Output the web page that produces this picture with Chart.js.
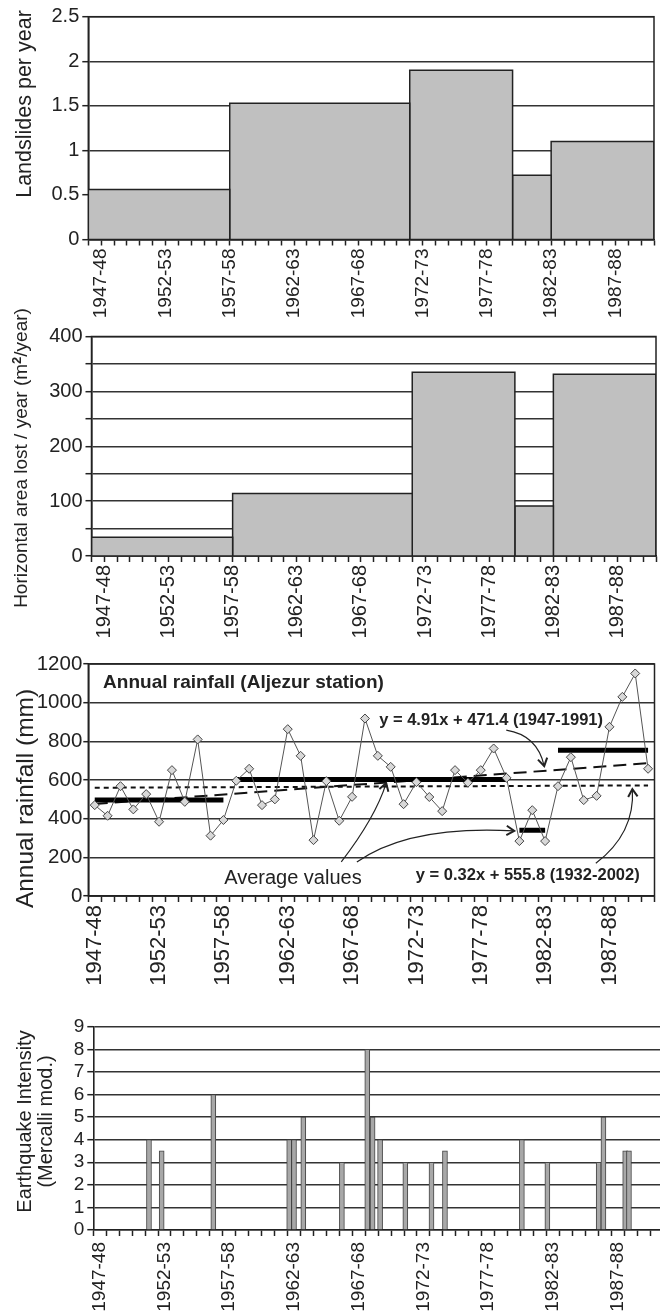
<!DOCTYPE html>
<html>
<head>
<meta charset="utf-8">
<script src="https://cdn.jsdelivr.net/npm/chart.js@4.4.1/dist/chart.umd.min.js"></script>
<style>
  html, body { margin: 0; padding: 0; background: #fff; overflow: hidden; }
  body { width: 660px; height: 1314px; position: relative; }
  canvas { position: absolute; left: 0; }
</style>
</head>
<body>
<canvas id="landslides" width="660" height="325" style="top:0px"></canvas>
<canvas id="area" width="660" height="345" style="top:300px"></canvas>
<canvas id="rainfall" width="660" height="355" style="top:645px"></canvas>
<canvas id="quakes" width="670" height="314" style="top:1000px"></canvas>
<script>
const FONT = "'Liberation Sans', Arial, sans-serif";
const INK = '#222';

// shared season axis
const axisStart = 1946, axisEnd = 1990;
const tickYears = [1947, 1952, 1957, 1962, 1967, 1972, 1977, 1982, 1987];
const tickLabels = ['1947-48', '1952-53', '1957-58', '1962-63', '1967-68', '1972-73', '1977-78', '1982-83', '1987-88'];

// periods used for the landslide / area bars
const periodStart = [1946, 1957, 1971, 1979, 1982];
const periodEnd = [1957, 1971, 1979, 1982, 1990];
const landslidesPerYear = [0.56, 1.53, 1.9, 0.72, 1.1];
const areaLostPerYear = [34, 114, 335, 91, 331];

// annual rainfall, Aljezur station (one value per season)
const rainFirstSeason = 1946.5;
const rainfallMm = [470, 415, 568, 448, 527, 384, 651, 487, 810, 312,
                    393, 596, 658, 470, 500, 863, 725, 289, 594, 389,
                    513, 918, 725, 668, 475, 589, 512, 439, 651, 586,
                    651, 763, 611, 284, 444, 284, 568, 718, 496, 518,
                    875, 1030, 1151, 658];
const avgFrom = [1946.5, 1957.5, 1979.5, 1982.5];
const avgTo = [1956.5, 1978.5, 1981.5, 1989.5];
const avgMm = [497, 603, 340, 754];
const trendSpan = [1946.5, 1989.5];
const trendLong = [476, 687];   // y = 4.91x + 471.4 (1947-1991)
const trendShort = [560, 572];  // y = 0.32x + 555.8 (1932-2002)

// earthquakes
const quakeYear = [1950.3, 1951.28, 1955.27, 1961.13, 1961.5, 1962.22, 1965.2, 1967.16, 1967.57, 1968.15,
                   1970.1, 1972.12, 1973.16, 1979.1, 1981.07, 1985.03, 1985.4, 1987.08, 1987.37];
const quakeMercalli = [4, 3.5, 6, 4, 4, 5, 3, 8, 5, 4, 3, 3, 3.5, 4, 3, 3, 5, 3.5, 3.5];

Chart.defaults.font.family = FONT;
Chart.defaults.color = INK;
Chart.defaults.animation = false;
Chart.defaults.plugins.legend.display = false;
Chart.defaults.plugins.tooltip.enabled = false;

function seasonAxis(labelShift, size, height, pad) {
    return {
        type: 'linear', min: axisStart, max: axisEnd, offset: false,
        afterBuildTicks: axis => {
            const t = [];
            for (let v = axisStart; v <= axisEnd; v++) t.push({ value: v });
            if (labelShift) tickYears.forEach(v => t.push({ value: v + labelShift }));
            axis.ticks = t.sort((a, b) => a.value - b.value);
        },
        afterFit: axis => {
            axis.height = height;
            axis.paddingLeft = 0;
            axis.paddingRight = 0;
        },
        grid: {
            drawOnChartArea: false, offset: false, tickLength: 6, tickWidth: 1.5,
            tickColor: c => Number.isInteger(c.tick.value) ? INK : 'rgba(0,0,0,0)'
        },
        border: { color: INK, width: 1.5 },
        ticks: {
            autoSkip: false, minRotation: 90, maxRotation: 90, padding: pad, color: INK,
            font: { size },
            callback: v => {
                const i = tickYears.indexOf(v - labelShift);
                return i < 0 ? '' : tickLabels[i];
            }
        }
    };
}

function valueAxis(max, step, labelStep, size, width, tickLen, pad) {
    return {
        min: 0, max,
        afterBuildTicks: axis => {
            const t = [];
            for (let v = 0; v <= max + 1e-9; v += step) t.push({ value: Math.round(v * 1000) / 1000 });
            axis.ticks = t;
        },
        afterFit: axis => {
            axis.width = width;
            axis.paddingTop = 0;
            axis.paddingBottom = 0;
        },
        grid: { color: '#333', lineWidth: 1.4, tickLength: tickLen, tickColor: INK, tickWidth: 1.5 },
        border: { color: INK, width: 1.6 },
        ticks: {
            autoSkip: false, padding: pad, color: INK, font: { size },
            callback: v => (Math.abs(v / labelStep - Math.round(v / labelStep)) < 1e-6 ? String(v) : '')
        }
    };
}

// box round the plot area
const frame = {
    id: 'frame',
    afterDatasetsDraw(chart) {
        const a = chart.chartArea, c = chart.ctx;
        c.save();
        c.strokeStyle = INK;
        c.lineWidth = 1.5;
        c.strokeRect(a.left, a.top, a.right - a.left, a.bottom - a.top);
        c.restore();
    }
};

// rotated y-axis title (text may be longer than the plot height)
const sideTitle = {
    id: 'sideTitle',
    afterDraw(chart, args, o) {
        const c = chart.ctx;
        c.save();
        c.translate(o.x, o.y);
        c.rotate(-Math.PI / 2);
        c.fillStyle = INK;
        c.textBaseline = 'middle';
        o.lines.forEach((parts, li) => {
            let total = 0;
            parts.forEach(p => { c.font = p.font || o.font; total += c.measureText(p.text).width; });
            let x = -total / 2;
            parts.forEach(p => {
                c.font = p.font || o.font;
                c.fillText(p.text, x, li * (o.gap || 0) - (p.rise || 0));
                x += c.measureText(p.text).width;
            });
        });
        c.restore();
    }
};

function periodBars(values) {
    return values.map((v, i) => ({
        data: [
            { x: periodStart[i], y: 0 }, { x: periodStart[i], y: v },
            { x: periodEnd[i], y: v }, { x: periodEnd[i], y: 0 }
        ],
        borderColor: INK, borderWidth: 1.5, backgroundColor: '#c0c0c0',
        fill: 'origin', pointRadius: 0, tension: 0
    }));
}

// ---------- landslides ----------
new Chart(document.getElementById('landslides'), {
    type: 'line',
    data: { datasets: periodBars(landslidesPerYear) },
    options: {
        responsive: false,
        layout: { padding: { top: 16.7, right: 6, left: 0, bottom: 0 } },
        scales: {
            x: seasonAxis(0, 19, 85.5, 3),
            y: valueAxis(2.5, 0.5, 0.5, 20, 88.3, 6, 3)
        },
        plugins: {
            sideTitle: { x: 25, y: 104, font: '21.5px ' + FONT, lines: [[{ text: 'Landslides per year' }]] }
        }
    },
    plugins: [frame, sideTitle]
});

// ---------- horizontal area lost ----------
new Chart(document.getElementById('area'), {
    type: 'line',
    data: { datasets: periodBars(areaLostPerYear) },
    options: {
        responsive: false,
        layout: { padding: { top: 36.5, right: 4, left: 0, bottom: 0 } },
        scales: {
            x: seasonAxis(0, 20, 89, 3),
            y: valueAxis(400, 50, 100, 20, 91.5, 6, 3)
        },
        plugins: {
            sideTitle: {
                x: 22, y: 158, font: '19px ' + FONT,
                lines: [[
                    { text: 'Horizontal area lost / year (m' },
                    { text: '2', font: 'bold 13px ' + FONT, rise: 5 },
                    { text: '/year)' }
                ]]
            }
        }
    },
    plugins: [frame, sideTitle]
});

// ---------- rainfall ----------
const rainNotes = [
    { text: 'Annual rainfall (Aljezur station)', x: 1947.15, y: 1101, font: 'bold 19px ' + FONT, align: 'left' },
    { text: 'y = 4.91x + 471.4 (1947-1991)', x: 1977.3, y: 910, font: 'bold 16.5px ' + FONT, align: 'center' },
    { text: 'y = 0.32x + 555.8 (1932-2002)', x: 1980.15, y: 108, font: 'bold 16.5px ' + FONT, align: 'center' },
    { text: 'Average values', x: 1961.9, y: 93, font: '20px ' + FONT, align: 'center' }
];
const rainArrows = [
    { from: [1965.66, 177], via: [1968.3, 405], to: [1969.15, 584] },
    { from: [1966.87, 176], via: [1970.96, 367], to: [1979.1, 337] },
    { from: [1978.48, 858], via: [1980.9, 832], to: [1981.43, 672] },
    { from: [1985.44, 169], via: [1988.5, 325], to: [1988.28, 553] }
];

const notes = {
    id: 'notes',
    afterDatasetsDraw(chart) {
        const { ctx: c, scales: { x, y } } = chart;
        const px = v => x.getPixelForValue(v), py = v => y.getPixelForValue(v);
        c.save();
        c.strokeStyle = INK;
        c.fillStyle = INK;
        rainArrows.forEach(a => {
            const sx = px(a.from[0]), sy = py(a.from[1]);
            const cx = px(a.via[0]), cy = py(a.via[1]);
            const ex = px(a.to[0]), ey = py(a.to[1]);
            c.lineWidth = 1.2;
            c.beginPath();
            c.moveTo(sx, sy);
            c.quadraticCurveTo(cx, cy, ex, ey);
            c.stroke();
            const ang = Math.atan2(ey - cy, ex - cx);
            c.lineWidth = 2;
            c.beginPath();
            c.moveTo(ex - 9 * Math.cos(ang - 0.55), ey - 9 * Math.sin(ang - 0.55));
            c.lineTo(ex, ey);
            c.lineTo(ex - 9 * Math.cos(ang + 0.55), ey - 9 * Math.sin(ang + 0.55));
            c.stroke();
        });
        rainNotes.forEach(n => {
            c.font = n.font;
            c.textAlign = n.align;
            c.textBaseline = 'middle';
            c.fillText(n.text, px(n.x), py(n.y));
        });
        c.restore();
    }
};

const rainDatasets = [{
    data: rainfallMm.map((v, i) => ({ x: rainFirstSeason + i, y: v })),
    borderColor: '#555', borderWidth: 1, tension: 0,
    pointStyle: 'rectRot', pointRadius: 4.5,
    pointBackgroundColor: '#d8d8d8', pointBorderColor: '#444', pointBorderWidth: 1
}];
avgMm.forEach((v, i) => rainDatasets.push({
    data: [{ x: avgFrom[i], y: v }, { x: avgTo[i], y: v }],
    borderColor: '#000', borderWidth: 5, pointRadius: 0, borderCapStyle: 'butt'
}));
rainDatasets.push({
    data: [{ x: trendSpan[0], y: trendLong[0] }, { x: trendSpan[1], y: trendLong[1] }],
    borderColor: '#111', borderWidth: 2, borderDash: [13, 7], pointRadius: 0
});
rainDatasets.push({
    data: [{ x: trendSpan[0], y: trendShort[0] }, { x: trendSpan[1], y: trendShort[1] }],
    borderColor: '#111', borderWidth: 2, borderDash: [5, 4], pointRadius: 0
});

new Chart(document.getElementById('rainfall'), {
    type: 'line',
    data: { datasets: rainDatasets },
    options: {
        responsive: false,
        layout: { padding: { top: 19, right: 4, left: 0, bottom: 0 } },
        scales: {
            x: seasonAxis(-0.5, 22, 104, 3),
            y: valueAxis(1200, 200, 200, 20.5, 88.3, 5, 1)
        },
        plugins: {
            sideTitle: { x: 26, y: 153.5, font: '24.5px ' + FONT, lines: [[{ text: 'Annual rainfall (mm)' }]] }
        }
    },
    plugins: [frame, notes, sideTitle]
});

// ---------- earthquakes ----------
new Chart(document.getElementById('quakes'), {
    type: 'bar',
    data: {
        datasets: [{
            data: quakeYear.map((x, i) => ({ x, y: quakeMercalli[i] })),
            backgroundColor: '#a8a8a8', borderColor: '#444', borderWidth: 1, barThickness: 5
        }]
    },
    options: {
        responsive: false,
        layout: { padding: { top: 26.7, right: 7, left: 0, bottom: 0 } },
        scales: {
            x: seasonAxis(-0.5, 19, 84, 6),
            y: valueAxis(9, 1, 1, 19, 93.3, 6, 3)
        },
        plugins: {
            sideTitle: {
                x: 25, y: 121.5, gap: 21, font: '20px ' + FONT,
                lines: [[{ text: 'Earthquake Intensity' }], [{ text: '(Mercalli mod.)' }]]
            }
        }
    },
    plugins: [sideTitle]
});
</script>
</body>
</html>
